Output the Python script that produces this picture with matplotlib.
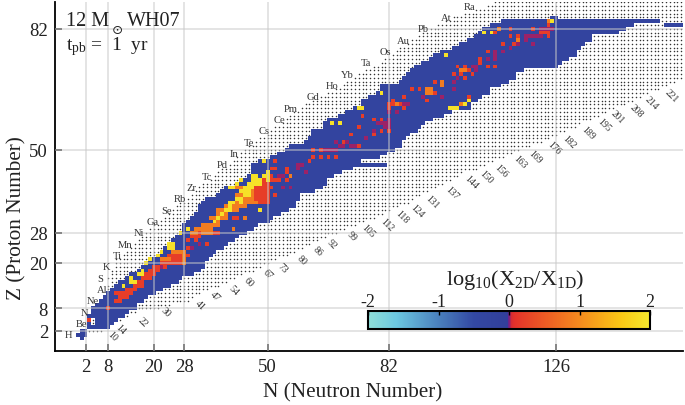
"""
Nuclide chart of log10(X_2D/X_1D), 12 Msun WH07 at 1 yr post bounce.
"""
import matplotlib
matplotlib.use("Agg")
import matplotlib.pyplot as plt
import numpy as np
from matplotlib.colors import LinearSegmentedColormap, Normalize
from matplotlib.cm import ScalarMappable

magic_n = [2, 8, 20, 28, 50, 82, 126]
magic_z = [2, 8, 20, 28, 50, 82]

# network band, one entry per row Z = 3..85
band_z = list(range(3, 86))
band_start = [3, 3, 3, 3, 4, 4, 5, 6, 7, 8, 9, 10, 11, 13, 14, 16, 17, 18, 20, 21,
              22, 23, 24, 25, 26, 27, 28, 28, 29, 30, 31, 32, 32, 33, 34, 37, 38, 39, 42, 44,
              45, 46, 46, 46, 48, 51, 53, 55, 56, 60, 61, 62, 62, 65, 65, 66, 69, 71, 73, 75,
              75, 77, 79, 80, 80, 85, 86, 87, 88, 89, 91, 93, 94, 96, 99, 101, 103, 105, 106, 107,
              109, 112, 125]
band_end = [8, 9, 10, 12, 13, 15, 15, 17, 18, 20, 22, 24, 26, 27, 30, 32, 33, 33, 34, 35,
            36, 38, 39, 41, 42, 44, 46, 47, 50, 51, 53, 55, 57, 57, 58, 58, 62, 64, 65, 65,
            67, 69, 72, 81, 74, 79, 81, 83, 85, 85, 86, 87, 89, 90, 91, 93, 96, 98, 103, 103,
            105, 106, 108, 108, 111, 113, 115, 115, 117, 126, 127, 129, 131, 131, 132, 133, 135, 135, 142, 144,
            146, 153, 126]
extra_band = [(155, 83), (156, 83), (157, 83), (158, 83), (159, 83)]
hydrogen_cells = [(1, 0), (0, 1), (1, 1), (2, 1), (1, 2), (2, 2)]
gap_cells = [(4, 4), (4, 5)]

# dotted region limits, one entry per row Z = 2..89
dots_z = list(range(2, 90))
dots_start = [3, 3, 3, 3, 3, 4, 4, 5, 6, 7, 8, 8, 8, 9, 8, 9, 9, 10, 10, 10,
              12, 13, 14, 15, 16, 17, 18, 19, 20, 22, 23, 24, 25, 26, 27, 29, 30, 31, 32, 33,
              35, 36, 37, 38, 40, 41, 42, 43, 44, 45, 47, 48, 50, 51, 52, 54, 55, 56, 57, 59,
              60, 62, 64, 66, 68, 70, 71, 73, 74, 76, 78, 80, 81, 83, 84, 85, 87, 88, 90, 91,
              93, 95, 97, 99, 102, 105, 108, 110]
dots_end = [6, 7, 9, 11, 13, 15, 21, 24, 29, 30, 32, 34, 37, 39, 41, 43, 46, 48, 50, 52,
            55, 57, 59, 61, 63, 65, 68, 70, 73, 75, 78, 80, 82, 84, 87, 88, 90, 92, 94, 96,
            98, 100, 101, 105, 107, 109, 112, 114, 116, 119, 122, 124, 126, 128, 131, 132, 135, 137, 139, 141,
            144, 146, 148, 150, 153, 155, 157, 159, 160, 160, 160, 160, 160, 160, 160, 160, 160, 160, 160, 160,
            160, 160, 160, 160, 160, 160, 160, 160]

# hot runs along a row: Z, first N, last N
red_row_z = [12, 13, 14, 15, 16, 17, 18, 19, 20, 21, 22, 27, 36, 37, 38, 39, 40, 41, 42, 43]
red_row_start = [11, 13, 15, 16, 17, 18, 19, 20, 22, 23, 24, 30, 48, 47, 46, 47, 47, 47, 49, 50]
red_row_end = [14, 15, 17, 17, 19, 20, 21, 23, 28, 27, 29, 32, 50, 50, 50, 50, 51, 50, 51, 51]
orange_row_z = [23, 28, 29, 30, 32, 33, 34, 35, 36, 37, 38, 39, 40]
orange_row_start = [25, 30, 31, 33, 35, 37, 37, 39, 41, 42, 42, 43, 42]
orange_row_end = [28, 36, 35, 37, 39, 39, 42, 44, 47, 46, 46, 46, 46]

# single cells off the band colour, grouped by how far above 1D they sit
purple_cells = [(22, 19), (32, 25), (30, 24), (54, 40), (53, 43), (54, 43), (56, 40), (58, 45), (60, 44),
                (58, 46), (59, 46), (68, 52), (82, 60), (68, 50), (67, 50), (66, 50), (69, 51), (71, 52),
                (72, 51), (73, 51), (76, 53), (78, 55), (81, 56), (82, 56), (82, 57), (122, 82), (123, 82),
                (124, 82), (125, 82), (118, 80), (119, 80), (120, 80), (121, 80), (122, 80), (118, 79),
                (120, 78), (114, 77), (116, 78), (110, 76), (112, 76), (110, 75), (110, 74), (108, 74),
                (104, 72), (105, 72), (105, 71), (99, 68), (100, 69), (96, 64), (99, 66), (91, 64), (87, 62),
                (86, 62), (84, 60), (82, 58), (81, 57), (80, 57), (79, 57), (65, 50), (70, 51)]
red_cells = [(3, 5), (8, 8), (10, 12), (10, 10), (11, 10), (11, 11), (12, 11), (13, 11),
             (29, 24), (29, 26), (30, 27), (32, 28), (31, 26), (36, 28), (37, 28), (34, 25), (41, 32), (42, 32),
             (52, 38), (52, 45), (51, 45), (52, 47), (52, 42), (53, 42), (55, 45), (55, 44), (55, 42), (61, 47),
             (62, 48), (64, 48), (62, 50), (64, 50), (66, 48), (68, 48), (70, 52), (74, 51), (72, 54), (74, 56),
             (75, 59), (78, 58), (80, 58), (82, 62), (83, 63), (86, 64), (82, 61), (85, 62), (78, 54), (80, 55),
             (124, 83), (110, 81), (114, 82), (120, 82), (123, 81), (124, 81), (122, 81), (124, 80), (114, 80),
             (116, 80), (115, 78), (112, 78), (108, 76), (106, 74), (106, 73), (100, 72), (102, 72), (108, 72),
             (110, 72), (103, 71), (104, 70), (101, 70), (99, 70), (102, 69), (94, 68), (88, 66), (90, 66),
             (92, 63), (94, 65), (83, 62), (86, 61), (82, 55), (103, 64)]
orange_cells = [(23, 21), (24, 21), (22, 21), (28, 22), (28, 21), (28, 20), (44, 32), (41, 29), (37, 31),
                (56, 43), (111, 82), (124, 84), (116, 79), (101, 71), (102, 71), (96, 68), (96, 67), (92, 66),
                (93, 66), (92, 65), (93, 65), (84, 62), (101, 62)]
yellow_cells = [(12, 14), (14, 15), (15, 15), (14, 16), (16, 17), (17, 17), (17, 18), (18, 20), (19, 21), (21, 22),
                (22, 23), (24, 25), (25, 25), (24, 24), (25, 24), (27, 28), (29, 29), (36, 31), (37, 32), (38, 33),
                (39, 34), (40, 35), (40, 36), (46, 43), (47, 43), (49, 43), (50, 44), (50, 43), (50, 42), (48, 42),
                (47, 41), (45, 41), (44, 40), (43, 39), (45, 40), (46, 40), (44, 39), (45, 39), (40, 40), (41, 40),
                (42, 41), (43, 42), (42, 37), (43, 37), (41, 36), (48, 34), (49, 47), (67, 57), (69, 57), (74, 61),
                (75, 61), (80, 65), (125, 84), (109, 81), (107, 81), (97, 75), (103, 63), (102, 62), (98, 61),
                (99, 61), (100, 61), (46, 41), (48, 41), (47, 42), (46, 42), (44, 38), (45, 38), (40, 34), (43, 36)]
band_value = -0.3
hydrogen_value = -0.12
purple_value = 0.01
red_value = 0.2
orange_value = 0.85
yellow_value = 1.9

element_names = ["H", "Be", "N", "Ne", "Al", "S", "K", "Ti", "Mn", "Ni", "Ga", "Se", "Rb", "Zr", "Tc",
                 "Pd", "In", "Te", "Cs", "Ce", "Pm", "Gd", "Ho", "Yb", "Ta", "Os", "Au", "Pb", "At", "Ra"]
element_z = [1, 4, 7, 10, 13, 16, 19, 22, 25, 28, 31, 34, 37, 40, 43,
             46, 49, 52, 55, 58, 61, 64, 67, 70, 73, 76, 79, 82, 85, 88]
element_n = [-2.4, 1, 1.8, 4, 6.3, 5.8, 7.4, 10.3, 12.4, 16, 19.8, 23.2, 26.9, 30, 34,
             38, 41, 45, 49, 53, 56, 62, 67, 71, 76, 81, 85.7, 91, 97, 103.3]

mass_labels = [10, 14, 22, 30, 41, 47, 54, 60, 67, 73, 80, 86, 92, 99, 105, 112, 118, 124, 131, 137,
               144, 150, 156, 163, 169, 176, 182, 189, 195, 201, 208, 214, 221]
mass_n = [9.2, 11.1, 17.1, 23.2, 32.2, 36.1, 41.1, 45.1, 50.1, 54, 59, 63.3, 66.9, 72.2, 76.4, 81.4, 85.4,
          89.4, 93.3, 98.6, 103.6, 107.5, 111.5, 116.5, 120.5, 125.5, 129.4, 134.4, 138.6, 142.3, 147.3,
          151.3, 156.3]
mass_z = [0.7, 2.5, 4.6, 7, 8.9, 11.3, 12.8, 15, 17.1, 18.9, 20.8, 23.2, 25, 27.2, 28.5, 30.3, 32.5,
          34, 36.4, 38.8, 41.7, 43, 44.6, 46.8, 48.3, 50.5, 52.3, 54.7, 56.6, 58.7, 60.5, 62.6, 64.5]

cbar_ticks = [-2, -1, 0, 1, 2]
cbar_ticklabels = ["-2", "-1", "0", "1", "2"]

plt.rcParams["font.family"] = ["Liberation Serif", "DejaVu Serif"]
plt.rcParams["mathtext.fontset"] = "custom"
plt.rcParams["mathtext.rm"] = "Liberation Serif"
plt.rcParams["mathtext.it"] = "Liberation Serif:italic"

cmap = LinearSegmentedColormap.from_list("abund", [
    (0.0, "#8fdfd8"), (0.1, "#6cc8e0"), (0.25, "#4a80bd"), (0.375, "#3348a2"), (0.495, "#323f9b"),
    (0.5, "#7a1d85"), (0.508, "#d42a35"), (0.52, "#e5322a"), (0.75, "#f58a1e"), (0.9, "#fbc815"), (1.0, "#f4e92e"),
], N=512)
norm = Normalize(-2, 2)

n_edges = np.arange(-1.5, 161.5)
z_edges = np.arange(-0.5, 91.5)
grid = np.full((len(z_edges) - 1, len(n_edges) - 1), np.nan)


def fill(cells, value):
    for n, z in cells:
        grid[z, n + 1] = value


def fill_rows(rows, starts, ends, value):
    for z, a, b in zip(rows, starts, ends):
        grid[z, a + 1:b + 2] = value


fill_rows(band_z, band_start, band_end, band_value)
fill(extra_band, band_value)
fill(hydrogen_cells, hydrogen_value)
fill_rows(red_row_z, red_row_start, red_row_end, red_value)
fill_rows(orange_row_z, orange_row_start, orange_row_end, orange_value)
fill(purple_cells, purple_value)
fill(red_cells, red_value)
fill(orange_cells, orange_value)
fill(yellow_cells, yellow_value)
for n, z in gap_cells:
    grid[z, n + 1] = np.nan

dot_x, dot_y = [], []
for z, a, b in zip(dots_z, dots_start, dots_end):
    for n in range(a, b + 1):
        if np.isnan(grid[z, n + 1]):
            dot_x.append(n)
            dot_y.append(z)

fig = plt.figure(figsize=(6.85, 4.06), dpi=100)
ax = fig.add_axes([55 / 685, 54 / 406, 628 / 685, 349 / 406])
ax.pcolormesh(n_edges, z_edges, grid, cmap=cmap, norm=norm, zorder=2, linewidth=0)
ax.scatter(dot_x, dot_y, s=1.2, c="#333333", marker="o", linewidths=0, zorder=1)

for n in magic_n:
    ax.axvline(n, color="#c9c9c9", lw=1.3, alpha=0.55, zorder=3)
for z in magic_z:
    ax.axhline(z, color="#c9c9c9", lw=1.3, alpha=0.55, zorder=3)

for name, n, z in zip(element_names, element_n, element_z):
    ax.text(n, z, name, fontsize=7.6, color="#333333", ha="center", va="center", zorder=4)
for label, n, z in zip(mass_labels, mass_n, mass_z):
    ax.text(n, z, str(label), fontsize=7, color="#333333", ha="center", va="center", rotation=-45, zorder=4)

ax.set_xlim(-6.06, 159.46)
ax.set_ylim(-3.3, 89.1)
ax.set_xticks(magic_n)
ax.set_yticks(magic_z)
ax.tick_params(direction="in", length=5, width=1.2, labelsize=13.5, pad=5, color="#222222", labelcolor="#222222")
ax.spines["top"].set_visible(False)
ax.spines["right"].set_visible(False)
ax.spines["left"].set_linewidth(1.3)
ax.spines["bottom"].set_linewidth(1.3)
ax.set_xlabel("N (Neutron Number)", fontsize=15.3, color="#222222")
ax.set_ylabel("Z (Proton Number)", fontsize=15.3, color="#222222")
ax.xaxis.set_label_coords((353 - 55) / 628, -(393 - 352) / 349, transform=ax.transAxes)
ax.xaxis.label.set_va("center")
ax.yaxis.set_label_coords((17 - 55) / 628, (352 - 218) / 349, transform=ax.transAxes)
ax.yaxis.label.set_va("center")

fig.text(66 / 685, 1 - 22 / 406, "12 M", fontsize=14.5, color="#222222", ha="left", va="center")
fig.text(117 / 685, 1 - 30 / 406, "\u2299", fontsize=9.5, color="#222222", ha="center", va="center", family="DejaVu Sans")
fig.text(127 / 685, 1 - 22 / 406, "WH07", fontsize=14.5, color="#222222", ha="left", va="center")
fig.text(66 / 685, 1 - 47 / 406, r"t$_{\mathrm{pb}}$ =  1  yr", fontsize=14, color="#222222", ha="left", va="center")

cax = fig.add_axes([368 / 685, 76 / 406, 282 / 685, 18 / 406])
cb = fig.colorbar(ScalarMappable(norm=norm, cmap=cmap), cax=cax, orientation="horizontal")
cb.set_ticks(cbar_ticks)
cb.set_ticklabels(cbar_ticklabels)
cb.ax.xaxis.set_ticks_position("top")
cb.ax.tick_params(direction="in", length=3, width=1, labelsize=13, pad=1, labelcolor="#222222")
cb.outline.set_linewidth(1.5)
fig.text(515 / 685, 1 - 280 / 406, r"log$_{10}$(X$_{\mathrm{2D}}$/X$_{\mathrm{1D}}$)", fontsize=16,
         color="#222222", ha="center", va="center")

fig.savefig("out.png", dpi=100)
plt.close(fig)
